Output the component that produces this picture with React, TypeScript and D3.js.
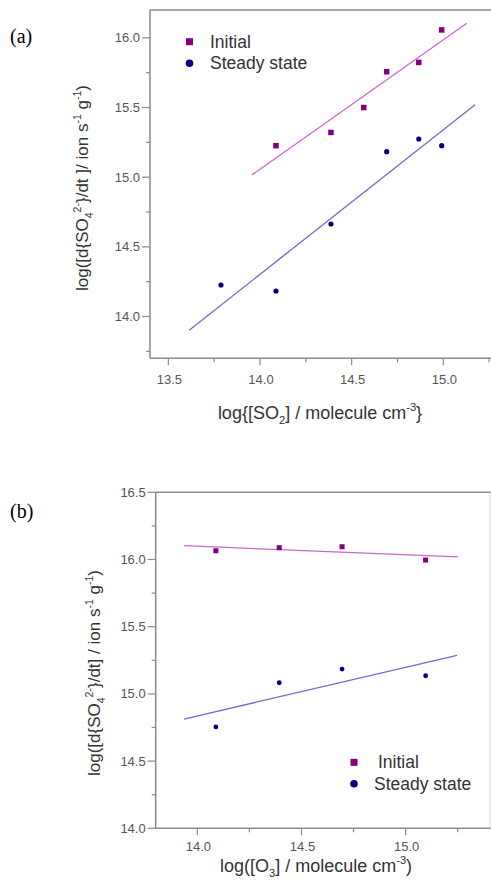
import React from 'react';
import * as d3 from 'd3';

// ---------- data ----------
// Panel (a): SO2 dependence
const aInitialX = [14.087, 14.387, 14.566, 14.691, 14.866, 14.991];
const aInitialY = [15.226, 15.321, 15.5, 15.757, 15.824, 16.057];
const aSteadyX = [13.787, 14.087, 14.387, 14.691, 14.866, 14.991];
const aSteadyY = [14.226, 14.183, 14.664, 15.183, 15.274, 15.226];
const aInitialFitX = [13.955, 15.128];
const aInitialFitY = [15.015, 16.105];
const aSteadyFitX = [13.614, 15.173];
const aSteadyFitY = [13.902, 15.52];
const aXTicks = [13.5, 14.0, 14.5, 15.0];
const aXMinor = [13.75, 14.25, 14.75, 15.25];
const aYTicks = [14.0, 14.5, 15.0, 15.5, 16.0];
const aYMinor = [13.75, 14.25, 14.75, 15.25, 15.75];

// Panel (b): O3 dependence
const bInitialX = [14.089, 14.393, 14.695, 15.096];
const bInitialY = [16.065, 16.088, 16.095, 15.996];
const bSteadyX = [14.089, 14.393, 14.695, 15.096];
const bSteadyY = [14.754, 15.083, 15.185, 15.135];
const bInitialFitX = [13.936, 15.252];
const bInitialFitY = [16.103, 16.019];
const bSteadyFitX = [13.936, 15.247];
const bSteadyFitY = [14.813, 15.287];
const bXTicks = [14.0, 14.5, 15.0];
const bXMinor = [14.25, 14.75, 15.25];
const bYTicks = [14.0, 14.5, 15.0, 15.5, 16.0, 16.5];
const bYMinor = [14.25, 14.75, 15.25, 15.75, 16.25];

const seriesNames = ['Initial', 'Steady state'];

// ---------- styles ----------
const FONT = "'Liberation Sans', Arial, Helvetica, sans-serif";
const AXIS = '#8a8a8a';
const TICKTXT = '#555';
const TITLE = '#333';
const INIT_C = '#800080';
const STEADY_C = '#000080';
const INIT_LINE = '#cc66cc';
const STEADY_LINE = '#6c6cd0';

type Part = { t: string; s?: 'sub' | 'sup' };

function rich(parts: Part[], fs: number) {
  let cur = 0;
  return parts.map((p, i) => {
    const target = p.s === 'sup' ? -0.42 * fs : p.s === 'sub' ? 0.3 * fs : 0;
    const dy = target - cur;
    cur = target;
    return (
      <tspan key={i} dy={dy} fontSize={p.s ? fs * 0.62 : fs}>
        {p.t}
      </tspan>
    );
  });
}

type PanelProps = {
  xDomain: [number, number];
  xRange: [number, number];
  yDomain: [number, number];
  yRange: [number, number];
  xTicks: number[];
  xMinor: number[];
  yTicks: number[];
  yMinor: number[];
  iX: number[];
  iY: number[];
  sX: number[];
  sY: number[];
  ifX: number[];
  ifY: number[];
  sfX: number[];
  sfY: number[];
  legendX: number;
  legendY: number;
  legendTextDx: number[];
  xTitle: Part[];
  xTitlePos: [number, number];
  yTitle: Part[];
  yTitlePos: [number, number];
  xTickLabelY: number;
  rightBorder: boolean;
  squareSize: number;
  circleR: number;
};

function Panel(p: PanelProps) {
  const x = d3.scaleLinear().domain(p.xDomain).range(p.xRange);
  const y = d3.scaleLinear().domain(p.yDomain).range(p.yRange);
  const [x0, x1] = p.xRange;
  const [yb, yt] = p.yRange;
  const line = d3
    .line<[number, number]>()
    .x((d) => x(d[0]))
    .y((d) => y(d[1]));
  const iFit: [number, number][] = p.ifX.map((v, i) => [v, p.ifY[i]]);
  const sFit: [number, number][] = p.sfX.map((v, i) => [v, p.sfY[i]]);
  const ss = p.squareSize;
  return (
    <g>
      {/* frame */}
      <line x1={x0} x2={x1} y1={yt} y2={yt} stroke={AXIS} strokeWidth={1.5} />
      <line x1={x0} x2={x0} y1={yt} y2={yb} stroke={AXIS} strokeWidth={1.5} />
      <line x1={x0} x2={x1} y1={yb} y2={yb} stroke={AXIS} strokeWidth={1.5} />
      {p.rightBorder && (
        <line x1={x1 - 1} x2={x1 - 1} y1={yt} y2={yb} stroke="#d6d6d6" strokeWidth={1} />
      )}
      {/* x ticks */}
      {p.xTicks.map((t) => (
        <g key={'xt' + t}>
          <line x1={x(t)} x2={x(t)} y1={yb} y2={yb + 7} stroke={AXIS} strokeWidth={1.2} />
          <text
            x={x(t) + 1}
            y={p.xTickLabelY}
            textAnchor="middle"
            fontSize={13}
            fill={TICKTXT}
            fontFamily={FONT}
          >
            {t.toFixed(1)}
          </text>
        </g>
      ))}
      {p.xMinor
        .filter((t) => x(t) <= x1)
        .map((t) => (
          <line key={'xm' + t} x1={x(t)} x2={x(t)} y1={yb} y2={yb + 4} stroke={AXIS} strokeWidth={1.2} />
        ))}
      {/* y ticks */}
      {p.yTicks.map((t) => (
        <g key={'yt' + t}>
          <line x1={x0 - 8} x2={x0} y1={y(t)} y2={y(t)} stroke={AXIS} strokeWidth={1.2} />
          <text
            x={x0 - 10}
            y={y(t) + 4.5}
            textAnchor="end"
            fontSize={13}
            fill={TICKTXT}
            fontFamily={FONT}
          >
            {t.toFixed(1)}
          </text>
        </g>
      ))}
      {p.yMinor.map((t) => (
        <line key={'ym' + t} x1={x0 - 4} x2={x0} y1={y(t)} y2={y(t)} stroke={AXIS} strokeWidth={1.2} />
      ))}
      {/* fit lines */}
      <path d={line(iFit) || ''} fill="none" stroke={INIT_LINE} strokeWidth={1.3} />
      <path d={line(sFit) || ''} fill="none" stroke={STEADY_LINE} strokeWidth={1.3} />
      {/* points */}
      {p.iX.map((v, i) => (
        <rect
          key={'i' + i}
          x={x(v) - ss / 2}
          y={y(p.iY[i]) - ss / 2}
          width={ss}
          height={ss}
          fill={INIT_C}
        />
      ))}
      {p.sX.map((v, i) => (
        <circle key={'s' + i} cx={x(v)} cy={y(p.sY[i])} r={p.circleR} fill={STEADY_C} />
      ))}
      {/* legend */}
      <rect x={p.legendX - 3.5} y={p.legendY - 3.5} width={7} height={7} fill={INIT_C} />
      <circle cx={p.legendX} cy={p.legendY + 21.5} r={3.8} fill={STEADY_C} />
      <text
        x={p.legendX + p.legendTextDx[0]}
        y={p.legendY + 6}
        fontSize={17.5}
        fill={TITLE}
        fontFamily={FONT}
      >
        {seriesNames[0]}
      </text>
      <text
        x={p.legendX + p.legendTextDx[1]}
        y={p.legendY + 27.5}
        fontSize={17.5}
        fill={TITLE}
        fontFamily={FONT}
      >
        {seriesNames[1]}
      </text>
      {/* titles */}
      <text
        x={p.xTitlePos[0]}
        y={p.xTitlePos[1]}
        textAnchor="middle"
        fill={TITLE}
        fontFamily={FONT}
        fontSize={18}
      >
        {rich(p.xTitle, 18)}
      </text>
      <text
        transform={`translate(${p.yTitlePos[0]},${p.yTitlePos[1]}) rotate(-90)`}
        textAnchor="middle"
        fill={TITLE}
        fontFamily={FONT}
        fontSize={17}
      >
        {rich(p.yTitle, 17)}
      </text>
    </g>
  );
}

export default function App() {
  const yTitleA: Part[] = [
    { t: 'log([d{SO' },
    { t: '4', s: 'sub' },
    { t: '2-', s: 'sup' },
    { t: '}/dt ]/ ion s' },
    { t: '-1', s: 'sup' },
    { t: ' g' },
    { t: '-1', s: 'sup' },
    { t: ')' },
  ];
  const yTitleB: Part[] = [
    { t: 'log([d{SO' },
    { t: '4', s: 'sub' },
    { t: '2-', s: 'sup' },
    { t: '}/dt] / ion s' },
    { t: '-1', s: 'sup' },
    { t: ' g' },
    { t: '-1', s: 'sup' },
    { t: ')' },
  ];
  const xTitleA: Part[] = [
    { t: 'log{[SO' },
    { t: '2', s: 'sub' },
    { t: '] / molecule cm' },
    { t: '-3', s: 'sup' },
    { t: '}' },
  ];
  const xTitleB: Part[] = [
    { t: 'log([O' },
    { t: '3', s: 'sub' },
    { t: '] / molecule cm' },
    { t: '-3', s: 'sup' },
    { t: ')' },
  ];
  return (
    <svg
      width={491}
      height={882}
      style={{ position: 'absolute', left: 0, top: 0, background: '#fff' }}
    >
      <rect x={0} y={0} width={491} height={882} fill="#fff" />
      <text x={10} y={43} fontFamily="'Liberation Serif', 'Times New Roman', serif" fontSize={20} fill="#000">
        (a)
      </text>
      <text x={10} y={518} fontFamily="'Liberation Serif', 'Times New Roman', serif" fontSize={20} fill="#000">
        (b)
      </text>
      <Panel
        xDomain={[13.4, 15.26]}
        xRange={[150, 491]}
        yDomain={[13.7, 16.2]}
        yRange={[358.3, 10]}
        xTicks={aXTicks}
        xMinor={aXMinor}
        yTicks={aYTicks}
        yMinor={aYMinor}
        iX={aInitialX}
        iY={aInitialY}
        sX={aSteadyX}
        sY={aSteadyY}
        ifX={aInitialFitX}
        ifY={aInitialFitY}
        sfX={aSteadyFitX}
        sfY={aSteadyFitY}
        legendX={189.5}
        legendY={41.7}
        legendTextDx={[20.5, 20.5]}
        xTitle={xTitleA}
        xTitlePos={[320, 419]}
        yTitle={yTitleA}
        yTitlePos={[88, 188]}
        xTickLabelY={384}
        rightBorder={false}
        squareSize={5.5}
        circleR={2.6}
      />
      <Panel
        xDomain={[13.8, 15.41]}
        xRange={[155.7, 491]}
        yDomain={[14.0, 16.5]}
        yRange={[828.3, 492.3]}
        xTicks={bXTicks}
        xMinor={bXMinor}
        yTicks={bYTicks}
        yMinor={bYMinor}
        iX={bInitialX}
        iY={bInitialY}
        sX={bSteadyX}
        sY={bSteadyY}
        ifX={bInitialFitX}
        ifY={bInitialFitY}
        sfX={bSteadyFitX}
        sfY={bSteadyFitY}
        legendX={354}
        legendY={762.3}
        legendTextDx={[24, 20]}
        xTitle={xTitleB}
        xTitlePos={[316, 872]}
        yTitle={yTitleB}
        yTitlePos={[100, 673]}
        xTickLabelY={851}
        rightBorder={true}
        squareSize={5}
        circleR={2.4}
      />
    </svg>
  );
}
